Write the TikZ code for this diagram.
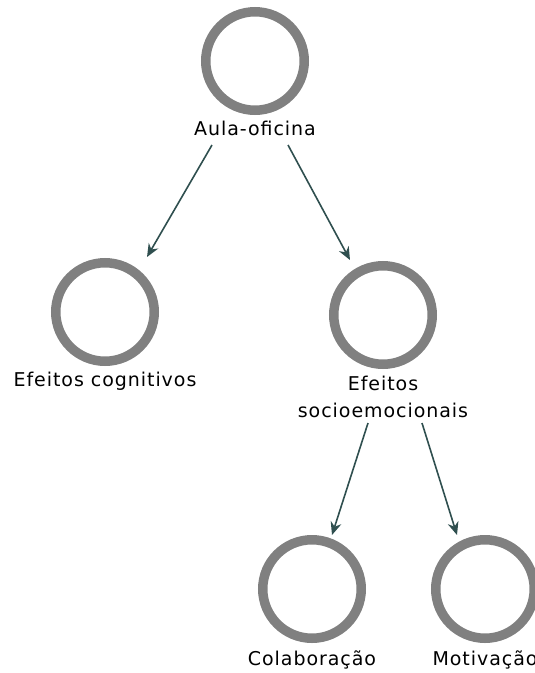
\documentclass[tikz,border=0pt]{standalone}
\usepackage{fontspec}
\setmainfont{DejaVu Sans}[LetterSpace=5.0]
\usetikzlibrary{arrows.meta}

\definecolor{ringgray}{RGB}{128,128,128}
\definecolor{linkcol}{RGB}{47,79,79}

\tikzset{
  ring/.style={circle, draw=ringgray, line width=9.5pt, minimum size=98.5pt, inner sep=0pt},
  lbl/.style={anchor=base, inner sep=1pt, align=center, font=\fontsize{19}{27}\selectfont},
  link/.style={draw=linkcol, line width=1.6pt, -{Stealth[length=13pt,width=11pt]}}
}

\begin{document}
\begin{tikzpicture}[x=1pt, y=-1pt]
  \useasboundingbox (0,0) rectangle (535,673);
  \clip (0,0) rectangle (535,673);

  % circles
  \node[ring] (aula)  at (255,61)  {};
  \node[ring] (cog)   at (105,312) {};
  \node[ring] (socio) at (383,315) {};
  \node[ring] (colab) at (312,589) {};
  \node[ring] (motiv) at (485,589) {};

  % labels under the circles
  \node[lbl] (aula-t)  at (255,135) {Aula-oficina};
  \node[lbl] (cog-t)   at (105,386) {Efeitos cognitivos};
  \node[lbl] (socio-t) at (383,417) {Efeitos\\socioemocionais};
  \node[lbl] (colab-t) at (312,665) {Colaboração};
  \node[lbl] (motiv-t) at (485,665) {Motivação};

  % arrow ends
  \coordinate (aula-l)  at (212,145);
  \coordinate (aula-r)  at (288,145);
  \coordinate (cog-in)  at (147,257);
  \coordinate (socio-in) at (350,260);
  \coordinate (socio-l) at (368,423);
  \coordinate (socio-r) at (422,423);
  \coordinate (colab-in) at (332,535);
  \coordinate (motiv-in) at (457,535);

  \draw[link] (aula-l) -- (cog-in);
  \draw[link] (aula-r) -- (socio-in);
  \draw[link] (socio-l) -- (colab-in);
  \draw[link] (socio-r) -- (motiv-in);
\end{tikzpicture}
\end{document}
